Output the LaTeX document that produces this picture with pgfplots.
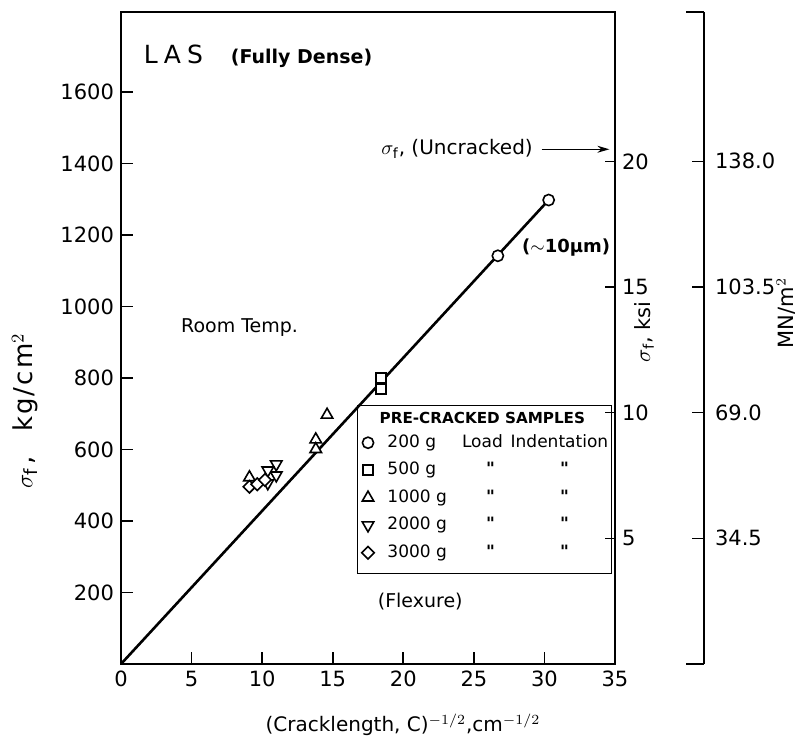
\documentclass[border=0pt]{standalone}
\usepackage{fontspec}
\setmainfont{DejaVu Sans}
\newfontfamily\ditfont{DejaVu Sans}[Ligatures=TeXOff]
\usepackage{pgfplots}
\pgfplotsset{compat=1.18}
\usetikzlibrary{arrows.meta}
\pgfplotstableread{
x y
30.3 1298
26.7 1142
}\circ
\pgfplotstableread{
x y
18.4 800
18.4 769
}\sq
\pgfplotstableread{
x y
14.6 697
13.8 628
13.8 601
9.1 522
}\tri
\pgfplotstableread{
x y
11.0 559
11.0 528
10.4 542
10.4 506
}\itri
\pgfplotstableread{
x y
9.1 496
9.65 503
10.2 515
}\dia
\newcommand{\dit}{{\ditfont\bfseries "}}
\begin{document}
\begin{tikzpicture}
\useasboundingbox (0,0) rectangle (400.5pt,370.5pt);
\begin{axis}[
  at={(60.5pt,38.5pt)}, anchor=south west,
  scale only axis, width=247pt, height=326pt,
  xmin=0, xmax=35, ymin=0, ymax=1824,
  xtick={0,5,...,35}, ytick={200,400,...,1600},
  xtick pos=bottom, ytick pos=left,
  tick align=inside, major tick length=6pt,
  axis line style={line width=0.8pt},
  every tick/.style={black, line width=0.8pt},
  tick label style={font=\fontsize{10.5}{12}\selectfont},
  /pgf/number format/assume math mode=true,
  /pgf/number format/1000 sep={},
  scaled ticks=false,
  clip=false,
  legend cell align=left,
  legend style={at={(axis cs:17.06,640)}, anchor=north west, draw=none, fill=none,
    inner sep=0pt, outer sep=0pt, font=\fontsize{8.5}{10}\selectfont,
    row sep=6.25pt, column sep=6.6pt,
    nodes={inner sep=0pt, text height=6pt, text depth=1.5pt}},
]
\addplot[black, line width=1.3pt, forget plot] coordinates {(0,0) (30.3,1298)};
\addplot[only marks, black, mark=*, mark size=2.8pt, mark options={solid, fill=white, line width=0.8pt}] table {\circ};
\addlegendentry{\makebox[0pt][l]{200 g}\hspace{47.5pt}\makebox[0pt]{Load}\hspace{38.5pt}\makebox[0pt]{Indentation}\hspace{22pt}}
\addplot[only marks, black, mark=square*, mark size=2.5pt, mark options={solid, fill=white, line width=0.8pt}] table {\sq};
\addlegendentry{\makebox[0pt][l]{500 g}\hspace{51.5pt}\makebox[0pt]{\dit}\hspace{37pt}\makebox[0pt]{\dit}}
\addplot[only marks, black, mark=triangle*, mark size=3.3pt, mark options={solid, fill=white, line width=0.8pt}] table {\tri};
\addlegendentry{\makebox[0pt][l]{1000 g}\hspace{51.5pt}\makebox[0pt]{\dit}\hspace{37pt}\makebox[0pt]{\dit}}
\addplot[only marks, black, mark=triangle*, mark size=3.3pt, mark options={solid, fill=white, line width=0.8pt, rotate=180}] table {\itri};
\addlegendentry{\makebox[0pt][l]{2000 g}\hspace{51.5pt}\makebox[0pt]{\dit}\hspace{37pt}\makebox[0pt]{\dit}}
\addplot[only marks, black, mark=square*, mark size=2.2pt, mark options={solid, fill=white, line width=0.8pt, rotate=45}] table {\dia};
\addlegendentry{\makebox[0pt][l]{3000 g}\hspace{51.5pt}\makebox[0pt]{\dit}\hspace{37pt}\makebox[0pt]{\dit}}
% legend frame and title
\draw[line width=0.6pt] (axis cs:16.74,724) rectangle (axis cs:34.75,254);
\node[anchor=west, inner sep=0pt, font=\bfseries\fontsize{7.6}{9}\selectfont] at (axis cs:18.3,688) {PRE-CRACKED SAMPLES};
% annotations
\node[anchor=west, inner sep=0pt] at (axis cs:1.6,1700) {\fontsize{12.5}{14}\selectfont L\hspace{3pt}A\hspace{3pt}S\hspace{14pt}\bfseries\fontsize{9.5}{11}\selectfont (Fully Dense)};
\node[anchor=east, inner sep=0pt, font=\fontsize{10}{12}\selectfont] at (axis cs:29.2,1440) {$\sigma_{\mathrm{f}}$, (Uncracked)};
\draw[-{Stealth[length=6pt,width=3.5pt]}, line width=0.6pt] (axis cs:29.8,1440) -- (axis cs:34.6,1440);
\node[anchor=west, inner sep=0pt, font=\bfseries\fontsize{9}{11}\selectfont] at (axis cs:28.4,1165) {($\sim$10μm)};
\node[font=\fontsize{9.5}{11}\selectfont] at (axis cs:8.4,940) {Room Temp.};
\node[font=\fontsize{9.5}{11}\selectfont] at (axis cs:21.2,175) {(Flexure)};
\end{axis}
% ksi axis
\begin{axis}[
  at={(60.5pt,38.5pt)}, anchor=south west,
  scale only axis, width=247pt, height=326pt,
  xmin=0, xmax=35, ymin=0, ymax=25.943,
  axis x line=none, axis y line*=right,
  ytick={5,10,15,20},
  tick align=inside, major tick length=5pt,
  axis line style={line width=0.8pt},
  every tick/.style={black, line width=0.8pt},
  tick label style={font=\fontsize{10.5}{12}\selectfont},
  /pgf/number format/assume math mode=true,
]
\end{axis}
% MN/m2 axis
\begin{axis}[
  at={(352pt,38.5pt)}, anchor=south east,
  scale only axis, width=20pt, height=326pt,
  xmin=0, xmax=1, ymin=0, ymax=179.0,
  axis x line=none, axis y line*=right,
  ytick={34.5,69,103.5,138}, yticklabels={34.5,69.0,103.5,138.0},
  tick align=inside, major tick length=6pt,
  axis line style={line width=0.8pt},
  every tick/.style={black, line width=0.8pt},
  tick label style={font=\fontsize{10.5}{12}\selectfont},
  yticklabel style={xshift=2pt},
  clip=false,
]
\draw[line width=0.8pt] (rel axis cs:1,1) -- ++(-9pt,0);
\draw[line width=0.8pt] (rel axis cs:1,0) -- ++(-9pt,0);
\end{axis}
% axis labels
\node[rotate=90, font=\fontsize{13}{15}\selectfont\addfontfeature{LetterSpace=8}] at (12.5pt,165pt) {$\sigma_{\mathrm{f}}$\hspace{2pt},\hspace{12pt}kg/cm$^{2}$};
\node[rotate=90, font=\fontsize{10.5}{12}\selectfont] at (322pt,204.5pt) {$\sigma_{\mathrm{f}}$, ksi};
\node[rotate=90, font=\fontsize{10.5}{12}\selectfont] at (393pt,214pt) {MN/m$^{2}$};
\node[font=\fontsize{10}{12}\selectfont] at (201.5pt,8pt) {(Cracklength, C)$^{-1/2}$,cm$^{-1/2}$};
\end{tikzpicture}
\end{document}
